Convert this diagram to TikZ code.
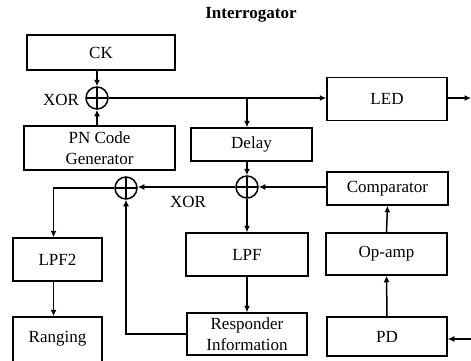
\documentclass[tikz,border=0pt]{standalone}
\usepackage{fontspec}
\setmainfont{Liberation Serif}
\usetikzlibrary{arrows.meta,calc}
\tikzset{
  blk/.style={draw, line width=1.5pt, inner sep=0pt, align=center, font=\fontsize{17}{20.5}\selectfont},
  xorc/.style={draw, circle, line width=1.5pt, minimum size=22pt, inner sep=0pt,
    path picture={\draw[line width=1.5pt] (path picture bounding box.north) -- (path picture bounding box.south)
      (path picture bounding box.west) -- (path picture bounding box.east);}},
  lbl/.style={font=\fontsize{17}{20.5}\selectfont, inner sep=0pt},
  conn/.style={line width=1.5pt, -{Latex[length=6.5pt,width=6pt]}},
  wire/.style={line width=1.5pt}
}
\begin{document}
\begin{tikzpicture}[x=1pt,y=-1pt]
\clip (0,0) rectangle (471,361);
\useasboundingbox (0,0) rectangle (471,361);

% title
\node[font=\fontsize{17}{20.5}\selectfont\bfseries, inner sep=0pt] (title) at (251,15) {Interrogator};

% blocks
\node[blk, minimum width=148pt, minimum height=35pt] (ck) at (101,52.5) {CK};
\node[blk, minimum width=151pt, minimum height=44pt] (pn) at (99.5,148) {PN Code\\Generator};
\node[blk, minimum width=120pt, minimum height=43pt] (led) at (387,99) {LED};
\node[blk, minimum width=121pt, minimum height=33pt] (delay) at (251.5,144.5) {Delay};
\node[blk, minimum width=121pt, minimum height=33pt] (comp) at (387.5,188.5) {Comparator};
\node[blk, minimum width=122pt, minimum height=43pt] (lpf) at (247,254.5) {LPF};
\node[blk, minimum width=121pt, minimum height=42pt] (opamp) at (386.5,254) {Op-amp};
\node[blk, minimum width=89pt, minimum height=43pt] (lpftwo) at (57.5,259.5) {LPF2};
\node[blk, minimum width=89pt, minimum height=50pt] (rng) at (57.5,342) {};
\node[lbl] (rngtxt) at (57.5,339) {Ranging};
\node[blk, minimum width=120pt, minimum height=42pt] (resp) at (247,334) {Responder\\Information};
\node[blk, minimum width=120pt, minimum height=39pt] (pd) at (387,336.5) {PD};

% XOR gates
\node[xorc] (xa) at (97,98) {};
\node[xorc] (xb) at (247,187) {};
\node[xorc] (xc) at (126,188) {};
\node[lbl] (xal) at (61,100) {XOR};
\node[lbl] (xbl) at (188,202) {XOR};

% free ends
\coordinate (ledout) at (471,98);
\coordinate (pdin) at (471,339);
\coordinate (tap) at (247,98);

% connections
\draw[conn] (ck.south -| xa) -- (xa.north);
\draw[conn] (pn.north -| xa) -- (xa.south);
\draw[conn] (xa.east) -- (led.west |- xa);
\draw[conn] (led.east |- ledout) -- (ledout);
\draw[conn] (tap) -- (tap |- delay.north);
\draw[conn] (xb |- delay.south) -- (xb.north);
\draw[conn] (comp.west |- xb) -- (xb.east);
\draw[conn] (xb.south) -- (xb |- lpf.north);
\draw[conn] (xb.west) -- (xc.east |- xb);
\draw[conn] (xc.west) -| ([xshift=-4pt]lpftwo.north);
\draw[conn] ([xshift=-4pt]lpftwo.south) -- ([xshift=-4pt]rng.north);
\draw[conn] (lpf.south) -- (resp.north);
\draw[conn] (resp.west) -| (xc.south);
\draw[conn] (pd.north) -- (opamp.south);
\draw[conn] (opamp.north) -- (comp.south);
\draw[conn] (pdin) -- (pd.east |- pdin);
\end{tikzpicture}
\end{document}
